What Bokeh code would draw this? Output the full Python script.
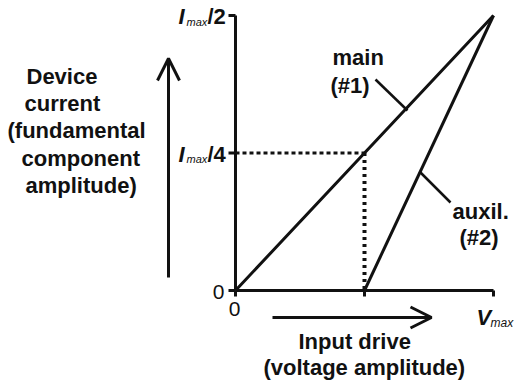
from bokeh.plotting import figure
from bokeh.models import Label, Arrow, OpenHead, Range1d
from bokeh.embed import file_html
from bokeh.resources import INLINE

# ---- data (drive in units of Vmax, current in units of Imax) ----
drive = [0.0, 0.5, 1.0]
main_current = [0.0, 0.25, 0.5]
aux_drive = [0.5, 1.0]
aux_current = [0.0, 0.5]
x_ticks = [0.0, 0.5, 1.0]
y_ticks = [0.0, 0.25, 0.5]
y_tick_labels = ["0", "/4", "/2"]
x_tick_labels = ["0", "", "V"]

FONT = "Liberation Sans"
INK = "#111111"
W, H = 514, 387

# pixel -> data helpers for annotation placement (canvas pixels)
SX, SY = 258.0, 550.0
def X(px):
    return (px - 235) / SX

def Y(py):
    return (290 - py) / SY

p = figure(width=W, height=H, output_backend="svg", toolbar_location=None,
           x_range=Range1d(X(0), X(W)), y_range=Range1d(Y(H), Y(0)),
           x_axis_type=None, y_axis_type=None,
           min_border_left=0, min_border_right=0,
           min_border_top=0, min_border_bottom=0)
p.outline_line_color = None
p.background_fill_color = "white"
p.border_fill_color = "white"

# axes drawn from the data bounds and tick arrays
x0, x1 = drive[0], drive[-1]
y0, y1 = main_current[0], main_current[-1]
p.line([x0, x1], [y0, y0], line_width=3, line_color=INK)
p.line([x0, x0], [y0, y1], line_width=3, line_color=INK)
tick_len_x = 7 / SX
tick_len_y = 6 / SY
p.segment(x0=x_ticks, y0=[y0] * len(x_ticks), x1=x_ticks,
          y1=[y0 - tick_len_y] * len(x_ticks), line_width=3, line_color=INK)
p.segment(x0=[x0] * len(y_ticks), y0=y_ticks, x1=[x0 - tick_len_x] * len(y_ticks),
          y1=y_ticks, line_width=3, line_color=INK)

# main and auxiliary device current lines
p.line(drive, main_current, line_width=3, line_color=INK)
p.line(aux_drive, aux_current, line_width=3, line_color=INK)

# dotted guides at the transition point
knee_v = aux_drive[0]
knee_i = main_current[1]
p.line([x0, knee_v], [knee_i, knee_i], line_width=3, line_color=INK, line_dash="4 3")
p.line([knee_v, knee_v], [knee_i, y0], line_width=4, line_color=INK, line_dash="3 4")

# leader lines for the labels
p.line([X(375), X(407)], [Y(79), Y(110)], line_width=2.5, line_color=INK)
p.line([X(450), X(419)], [Y(202), Y(171)], line_width=2.5, line_color=INK)

SHIFT = -6  # baseline correction

def lab(txt, px, py, size=22, style="bold", align="left"):
    p.add_layout(Label(x=X(px), y=Y(py + SHIFT), text=txt, text_font=FONT,
                       text_font_size=f"{size}px", text_font_style=style,
                       text_color=INK, text_align=align,
                       text_baseline="alphabetic"))

# left axis description
lab("Device", 26, 82)
lab("current", 24, 109)
lab("(fundamental", 7, 136)
lab("component", 21, 164)
lab("amplitude)", 25, 191)

# bottom description
lab("Input drive", 298, 347)
lab("(voltage amplitude)", 263, 373)

# curve labels
lab("main", 332, 63)
lab("(#1)", 330, 91)
lab("auxil.", 452, 217)
lab("(#2)", 459, 243)

# tick labels
for t, s in zip(y_ticks, y_tick_labels):
    py = 290 - t * SY
    if s == "0":
        lab("0", 224, py + 7, size=21, style="normal", align="right")
    else:
        lab("I", 178, py + 7, size=22, style="bold italic")
        lab("max", 186, py + 12, size=11, style="italic")
        lab(s, 207, py + 7, size=22, style="bold")

for t, s in zip(x_ticks, x_tick_labels):
    px = 235 + t * SX
    if s == "0":
        lab("0", px - 1, 314, size=21, style="normal", align="center")
    elif s == "V":
        lab("V", px - 17, 323, size=22, style="bold italic")
        lab("max", px - 3, 328, size=12, style="italic")

# arrows
p.add_layout(Arrow(end=OpenHead(size=22, line_width=3, line_color=INK),
                   x_start=X(168), y_start=Y(277), x_end=X(168), y_end=Y(58),
                   line_width=3, line_color=INK))
p.add_layout(Arrow(end=OpenHead(size=21, line_width=3, line_color=INK),
                   x_start=X(272), y_start=Y(317), x_end=X(431), y_end=Y(317),
                   line_width=3, line_color=INK))

open("out.html", "w").write(file_html(p, INLINE))
